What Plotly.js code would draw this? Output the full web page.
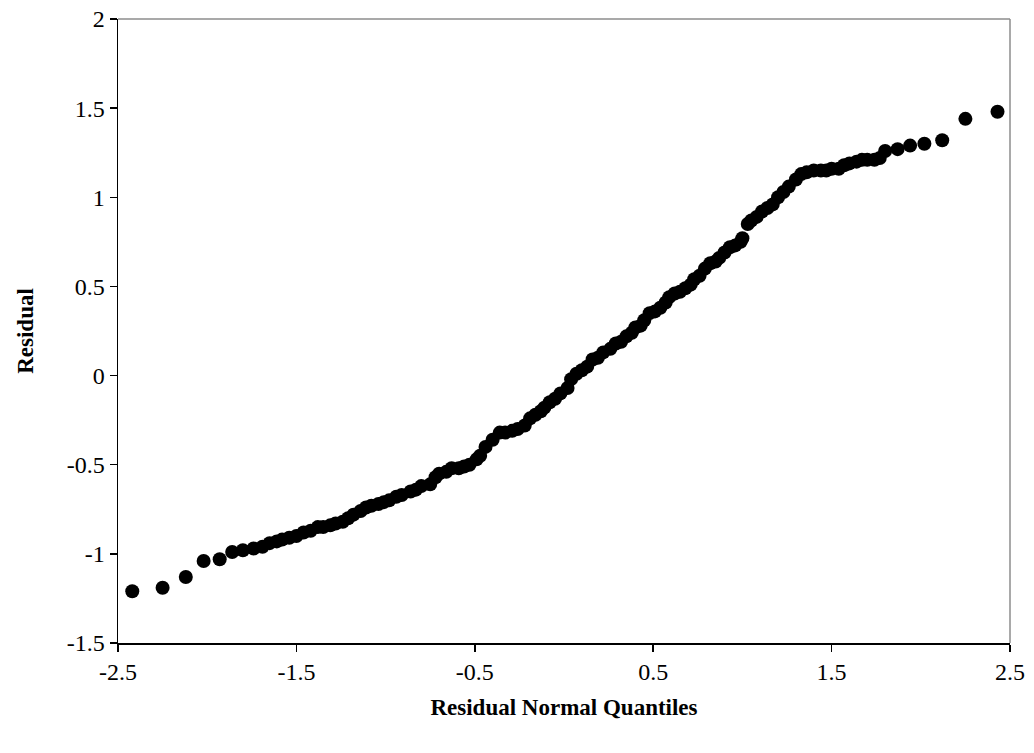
<!DOCTYPE html>
<html>
<head>
<meta charset="utf-8">
<script src="https://cdn.plot.ly/plotly-3.0.1.min.js"></script>
<style>html,body{margin:0;padding:0;background:#fff;}#chart{width:1034px;height:753px;}</style>
</head>
<body>
<div id="chart"></div>
<script>
var quantiles = [
 -2.42,-2.25,-2.12,-2.02,-1.93,-1.86,-1.80,-1.74,-1.69,
 -1.65,-1.61,-1.58,-1.54,-1.50,-1.46,-1.42,-1.38,-1.35,-1.31,
 -1.28,-1.24,-1.21,-1.18,-1.14,-1.11,-1.08,-1.04,-1.01,-0.98,
 -0.94,-0.91,-0.86,-0.83,-0.80,-0.75,-0.72,-0.70,-0.66,-0.63,
 -0.59,-0.56,-0.53,-0.49,-0.47,-0.44,-0.40,-0.36,-0.33,-0.29,
 -0.26,-0.22,-0.19,-0.16,-0.13,-0.11,-0.08,-0.05,-0.02,0.02,
 0.04,0.07,0.10,0.13,0.16,0.19,0.22,0.26,0.29,0.32,
 0.35,0.38,0.40,0.43,0.45,0.48,0.51,0.54,0.57,0.59,
 0.62,0.65,0.68,0.71,0.73,0.76,0.79,0.82,0.85,0.87,
 0.90,0.93,0.96,0.99,1.00,1.03,1.05,1.08,1.11,1.14,
 1.17,1.20,1.23,1.26,1.30,1.33,1.36,1.40,1.44,1.47,
 1.50,1.54,1.57,1.60,1.64,1.67,1.70,1.74,1.77,1.80,
 1.87,1.94,2.02,2.12,2.25,2.43
];
var residuals = [
 -1.21,-1.19,-1.13,-1.04,-1.03,-0.99,-0.98,-0.97,-0.96,
 -0.94,-0.93,-0.92,-0.91,-0.90,-0.88,-0.87,-0.85,-0.85,-0.84,
 -0.83,-0.82,-0.80,-0.78,-0.76,-0.74,-0.73,-0.72,-0.71,-0.70,
 -0.68,-0.67,-0.65,-0.64,-0.62,-0.61,-0.57,-0.55,-0.54,-0.52,
 -0.52,-0.51,-0.50,-0.47,-0.45,-0.40,-0.36,-0.32,-0.32,-0.31,
 -0.30,-0.28,-0.24,-0.22,-0.20,-0.18,-0.15,-0.13,-0.10,-0.07,
 -0.02,0.01,0.03,0.05,0.09,0.10,0.13,0.15,0.18,0.19,
 0.22,0.24,0.27,0.28,0.31,0.35,0.36,0.38,0.41,0.44,
 0.46,0.47,0.49,0.51,0.54,0.56,0.60,0.63,0.64,0.66,
 0.69,0.72,0.73,0.75,0.77,0.85,0.87,0.89,0.92,0.94,
 0.96,1.00,1.03,1.06,1.10,1.13,1.14,1.15,1.15,1.15,
 1.16,1.16,1.18,1.19,1.20,1.21,1.21,1.21,1.22,1.26,
 1.27,1.29,1.30,1.32,1.44,1.48
];
var xTickVals = [-2.5,-1.5,-0.5,0.5,1.5,2.5];
var xTickText = ["-2.5","-1.5","-0.5","0.5","1.5","2.5"];
var yTickVals = [-1.5,-1,-0.5,0,0.5,1,1.5,2];
var yTickText = ["-1.5","-1","-0.5","0","0.5","1","1.5","2"];

if (quantiles.length !== residuals.length) console.error("length mismatch", quantiles.length, residuals.length);

var font = "'Liberation Serif','Times New Roman',serif";
var trace = {
  x: quantiles, y: residuals, type: 'scatter', mode: 'markers',
  marker: {color: '#000000', size: 14, line: {width: 0}},
  hoverinfo: 'x+y'
};
var layout = {
  width: 1034, height: 753,
  margin: {l: 118, r: 24, t: 19, b: 110},
  paper_bgcolor: '#ffffff', plot_bgcolor: '#ffffff',
  showlegend: false,
  font: {family: font, size: 24, color: '#000'},
  xaxis: {
    range: [-2.5, 2.5], tickmode: 'array', tickvals: xTickVals, ticktext: xTickText,
    showgrid: false, zeroline: false, showline: true, linecolor: '#000', linewidth: 1.5,
    ticks: 'outside', ticklen: 7, tickcolor: '#000', tickwidth: 1.5,
    tickfont: {family: font, size: 24, color: '#000'},
    title: {text: '<b>Residual Normal Quantiles</b>', font: {family: font, size: 23, color: '#000'}, standoff: 14}
  },
  yaxis: {
    range: [-1.5, 2], tickmode: 'array', tickvals: yTickVals, ticktext: yTickText,
    showgrid: false, zeroline: false, showline: true, linecolor: '#000', linewidth: 1.5,
    ticks: 'outside', ticklen: 7, tickcolor: '#000', tickwidth: 1.5,
    tickfont: {family: font, size: 24, color: '#000'},
    title: {text: '<b>Residual</b>', font: {family: font, size: 23, color: '#000'}, standoff: 26}
  },
  shapes: [
    {type: 'line', xref: 'paper', yref: 'paper', x0: 0, x1: 1, y0: 1, y1: 1, line: {color: '#8c8c8c', width: 1.5}},
    {type: 'line', xref: 'paper', yref: 'paper', x0: 1, x1: 1, y0: 0, y1: 1, line: {color: '#8c8c8c', width: 1.5}}
  ]
};
Plotly.newPlot('chart', [trace], layout, {displayModeBar: false, staticPlot: true});
</script>
</body>
</html>
